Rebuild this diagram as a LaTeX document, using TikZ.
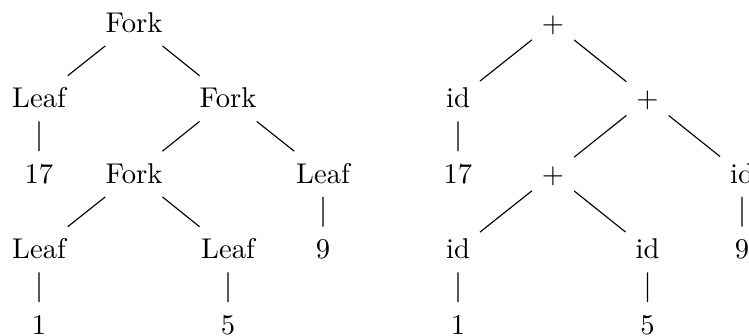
\documentclass[tikz,border=0pt]{standalone}
\begin{document}
\begin{tikzpicture}[x=0.35pt,y=-0.35pt,
  tn/.style={anchor=base,inner sep=3.3pt,text height=7.8pt,text depth=1.2pt,font=\fontsize{10}{12}\selectfont},
  edge/.style={line width=0.4pt}]
\useasboundingbox (0,0) rectangle (749,336);
% left tree
\node[tn] (a) at (134,32.5) {Fork};
\node[tn] (b) at (39,108) {Leaf};
\node[tn] (c) at (228,108) {Fork};
\node[tn] (d) at (39,183.5) {17};
\node[tn] (e) at (134,183.5) {Fork};
\node[tn] (f) at (323,183.5) {Leaf};
\node[tn] (g) at (39,259) {Leaf};
\node[tn] (h) at (228,259) {Leaf};
\node[tn] (i) at (323,259) {9};
\node[tn] (j) at (39,334.5) {1};
\node[tn] (k) at (228,334.5) {5};
\draw[edge] (a)--(b) (a)--(c) (b)--(d) (c)--(e) (c)--(f) (e)--(g) (e)--(h) (f)--(i) (g)--(j) (h)--(k);
% right tree
\node[tn] (A) at (553,32.5) {+};
\node[tn] (B) at (458,108) {id};
\node[tn] (C) at (647.5,108) {+};
\node[tn] (D) at (458,183.5) {17};
\node[tn] (E) at (553,183.5) {+};
\node[tn] (F) at (742,183.5) {id};
\node[tn] (G) at (458,259) {id};
\node[tn] (H) at (647.5,259) {id};
\node[tn] (I) at (742,259) {9};
\node[tn] (J) at (458,334.5) {1};
\node[tn] (K) at (647.5,334.5) {5};
\draw[edge] (A)--(B) (A)--(C) (B)--(D) (C)--(E) (C)--(F) (E)--(G) (E)--(H) (F)--(I) (G)--(J) (H)--(K);
\end{tikzpicture}
\end{document}
